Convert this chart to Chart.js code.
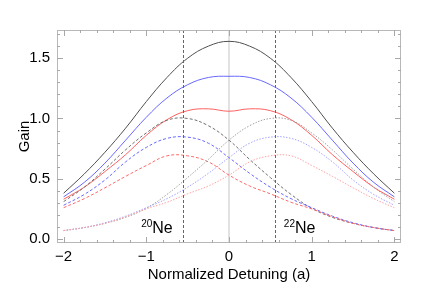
<!DOCTYPE html>
<html>
<head>
<meta charset="utf-8">
<script src="https://cdn.jsdelivr.net/npm/chart.js@4/dist/chart.umd.min.js"></script>
<style>
  html, body { margin: 0; padding: 0; background: #fff; }
  #wrap { width: 436px; height: 300px; }
</style>
</head>
<body>
<div id="wrap"><canvas id="gainChart" width="436" height="300"></canvas></div>
<script>
// detuning grid (normalized, a)
const detuning = [-2, -1.75, -1.5, -1.25, -1, -0.75, -0.5, -0.25, 0, 0.25, 0.5, 0.75, 1, 1.25, 1.5, 1.75, 2];

// total gain (solid)
const totalBlack = [0.38, 0.54, 0.72, 0.92, 1.14, 1.34, 1.50, 1.60, 1.64, 1.60, 1.50, 1.34, 1.14, 0.92, 0.72, 0.54, 0.38];
const totalBlue  = [0.35, 0.47, 0.63, 0.82, 1.01, 1.17, 1.28, 1.34, 1.35, 1.34, 1.28, 1.17, 1.01, 0.82, 0.63, 0.47, 0.35];
const totalRed   = [0.33, 0.43, 0.56, 0.70, 0.86, 0.99, 1.065, 1.08, 1.06, 1.08, 1.065, 0.99, 0.86, 0.70, 0.56, 0.43, 0.33];

// 20Ne contribution (dashed)
const ne20Black = [0.31, 0.43, 0.58, 0.74, 0.88, 0.985, 1.0, 0.94, 0.82, 0.66, 0.51, 0.37, 0.255, 0.18, 0.13, 0.095, 0.07];
const ne20Blue  = [0.28, 0.37, 0.49, 0.64, 0.76, 0.835, 0.845, 0.795, 0.675, 0.545, 0.43, 0.335, 0.26, 0.19, 0.135, 0.095, 0.07];
const ne20Red   = [0.26, 0.335, 0.425, 0.52, 0.61, 0.69, 0.69, 0.64, 0.53, 0.44, 0.375, 0.305, 0.25, 0.185, 0.13, 0.095, 0.07];

// 22Ne contribution (dotted)
const ne22Black = [0.07, 0.095, 0.13, 0.18, 0.255, 0.37, 0.51, 0.66, 0.82, 0.94, 1.0, 0.985, 0.88, 0.74, 0.58, 0.43, 0.31];
const ne22Blue  = [0.07, 0.095, 0.135, 0.19, 0.26, 0.335, 0.43, 0.545, 0.675, 0.795, 0.845, 0.835, 0.76, 0.64, 0.49, 0.37, 0.28];
const ne22Red   = [0.07, 0.095, 0.13, 0.185, 0.25, 0.305, 0.375, 0.44, 0.53, 0.64, 0.69, 0.69, 0.61, 0.52, 0.425, 0.335, 0.26];

// isotope line centres and tick labels
const isotopeCentres = [-0.56, 0.56];
const xTicks = [-2, -1, 0, 1, 2];
const yTicks = [0, 0.5, 1.0, 1.5];

function pts(ys) {
  return ys.map((y, i) => ({ x: detuning[i], y: y }));
}

function line(ys, color, dash) {
  return {
    data: pts(ys),
    borderColor: color,
    borderWidth: 1,
    borderDash: dash || [],
    pointRadius: 0,
    tension: 0.4,
    fill: false
  };
}

// frame, inner ticks, marker lines and isotope labels
const decorations = {
  id: 'decorations',
  beforeDatasetsDraw(chart) {
    const { ctx, chartArea: a, scales: { x } } = chart;
    ctx.save();
    // zero axis line
    ctx.strokeStyle = '#e2e2e2';
    ctx.lineWidth = 2;
    ctx.beginPath();
    ctx.moveTo(x.getPixelForValue(0), a.top);
    ctx.lineTo(x.getPixelForValue(0), a.bottom);
    ctx.stroke();
    ctx.restore();
  },
  afterDatasetsDraw(chart) {
    const { ctx, chartArea: a, scales: { x, y } } = chart;
    ctx.save();
    // isotope centre lines
    ctx.strokeStyle = '#666';
    ctx.lineWidth = 1;
    ctx.setLineDash([3, 2]);
    isotopeCentres.forEach(c => {
      const px = Math.round(x.getPixelForValue(c)) + 0.5;
      ctx.beginPath();
      ctx.moveTo(px, a.top);
      ctx.lineTo(px, a.bottom);
      ctx.stroke();
    });
    ctx.setLineDash([]);

    // frame
    ctx.strokeStyle = '#b8b8b8';
    ctx.strokeRect(a.left + 0.5, a.top + 0.5, a.right - a.left - 1, a.bottom - a.top - 1);

    // inner ticks
    ctx.strokeStyle = '#a8a8a8';
    ctx.beginPath();
    for (let i = -10; i <= 10; i++) {
      const v = i / 5;
      const px = Math.round(x.getPixelForValue(v)) + 0.5;
      const len = (i % 5 === 0) ? 6 : 3;
      ctx.moveTo(px, a.bottom); ctx.lineTo(px, a.bottom - len);
      ctx.moveTo(px, a.top); ctx.lineTo(px, a.top + len);
    }
    for (let i = 0; i <= 17; i++) {
      const v = i / 10;
      const py = Math.round(y.getPixelForValue(v)) + 0.5;
      const len = (i % 5 === 0) ? 6 : 3;
      ctx.moveTo(a.left, py); ctx.lineTo(a.left + len, py);
      ctx.moveTo(a.right, py); ctx.lineTo(a.right - len, py);
    }
    ctx.stroke();

    // isotope labels
    ctx.fillStyle = '#000';
    ctx.textBaseline = 'alphabetic';
    const labels = [{ sup: '20', x: -0.68 }, { sup: '22', x: 1.045 }];
    labels.forEach(l => {
      const right = x.getPixelForValue(l.x);
      const base = y.getPixelForValue(0.052);
      ctx.font = '16px "Liberation Sans", Arial, sans-serif';
      const w = ctx.measureText('Ne').width;
      ctx.textAlign = 'right';
      ctx.fillText('Ne', right, base);
      ctx.font = '10px "Liberation Sans", Arial, sans-serif';
      ctx.fillText(l.sup, right - w, base - 6);
    });
    ctx.restore();
  }
};

const ctx = document.getElementById('gainChart');
new Chart(ctx, {
  type: 'line',
  data: {
    datasets: [
      line(ne22Red, '#ffa3a3', [1.5, 1.5]),
      line(ne22Blue, '#a3a3ff', [1.5, 1.5]),
      line(ne22Black, '#a0a0a0', [1.5, 1.5]),
      line(ne20Red, '#ff6a6a', [3, 2]),
      line(ne20Blue, '#6a6aff', [3, 2]),
      line(ne20Black, '#707070', [3, 2]),
      line(totalRed, '#ff6060'),
      line(totalBlue, '#6868ff'),
      line(totalBlack, '#505050')
    ]
  },
  plugins: [decorations],
  options: {
    responsive: false,
    animation: false,
    layout: { padding: { top: 30, right: 35, left: 16, bottom: 16 } },
    plugins: { legend: { display: false }, tooltip: { enabled: false } },
    scales: {
      x: {
        type: 'linear',
        min: -2.08,
        max: 2.08,
        afterBuildTicks: s => { s.ticks = xTicks.map(v => ({ value: v })); },
        afterFit: s => { s.height = 41; },
        grid: { display: false, drawTicks: false },
        border: { display: false },
        ticks: {
          padding: 5,
          color: '#000',
          font: { family: '"Liberation Sans", Arial, sans-serif', size: 15 },
          callback: v => (v < 0 ? '\u2212' + Math.abs(v) : String(v))
        },
        title: {
          display: true,
          text: 'Normalized Detuning (a)',
          color: '#000',
          padding: { top: 2, bottom: 0 },
          font: { family: '"Liberation Sans", Arial, sans-serif', size: 15 }
        }
      },
      y: {
        type: 'linear',
        min: -0.033,
        max: 1.734,
        afterBuildTicks: s => { s.ticks = yTicks.map(v => ({ value: v })); },
        afterFit: s => { s.width = 41; },
        grid: { display: false, drawTicks: false },
        border: { display: false },
        ticks: {
          padding: 7,
          color: '#000',
          font: { family: '"Liberation Sans", Arial, sans-serif', size: 15 },
          callback: v => v.toFixed(1)
        },
        title: {
          display: true,
          text: 'Gain',
          color: '#000',
          padding: { top: 0, bottom: 4 },
          font: { family: '"Liberation Sans", Arial, sans-serif', size: 15 }
        }
      }
    }
  }
});
</script>
</body>
</html>
